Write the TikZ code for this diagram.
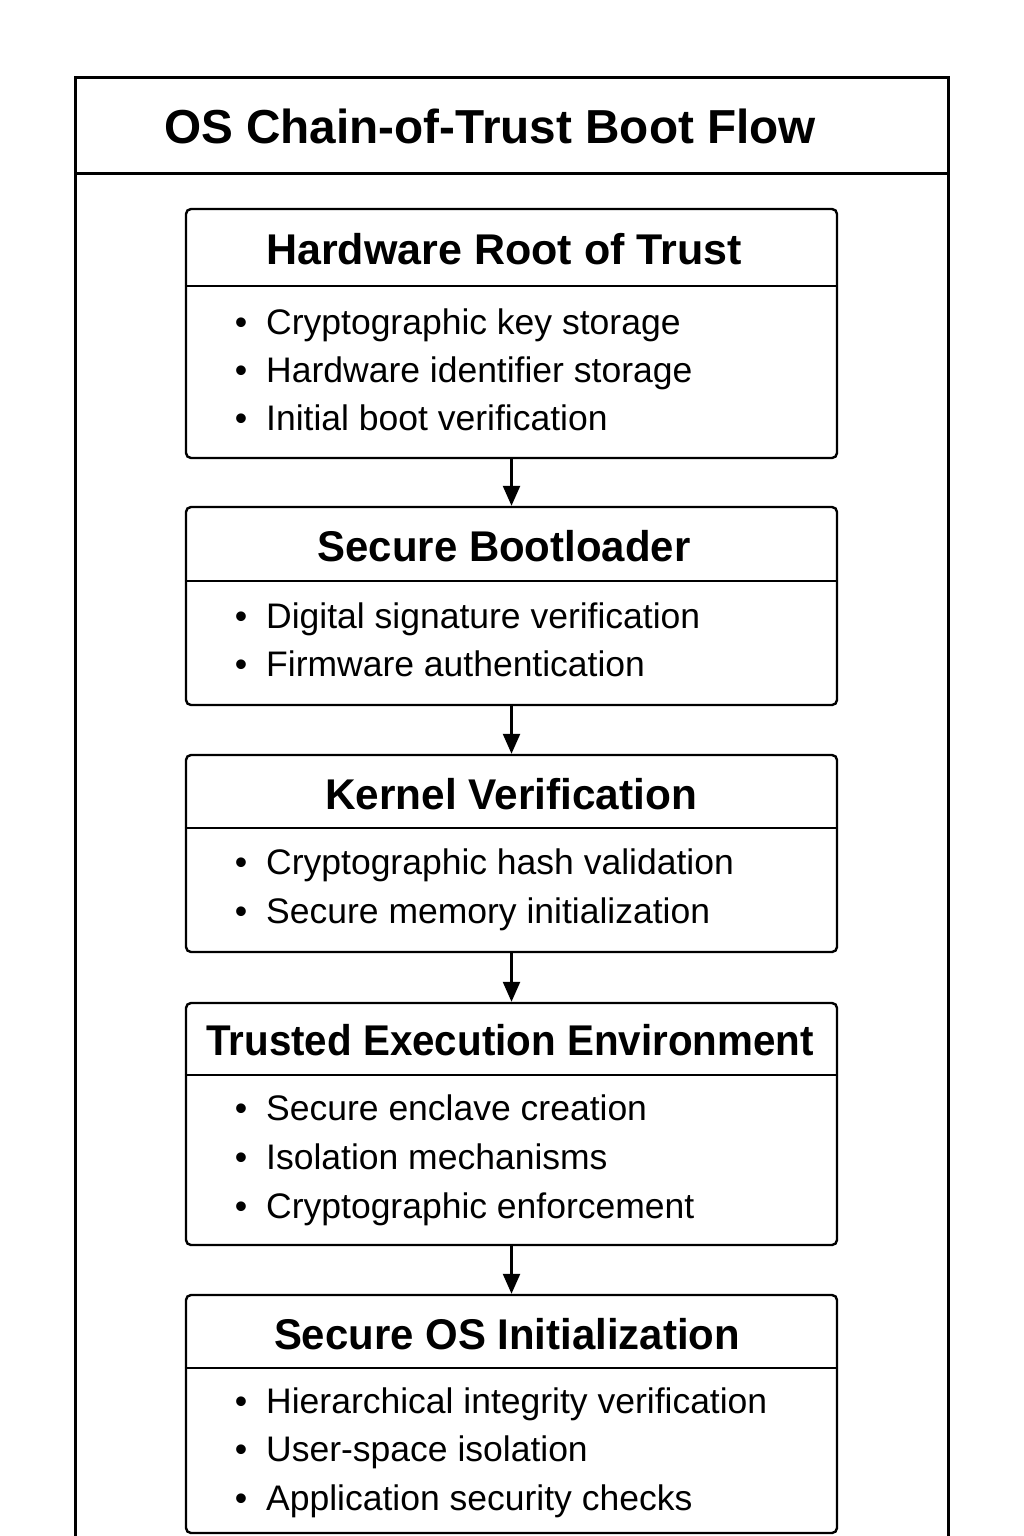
\documentclass[tikz,border=0pt]{standalone}
\usepackage{fontspec}
\setmainfont{Liberation Sans}
\usetikzlibrary{arrows.meta}

\begin{document}
\begin{tikzpicture}[x=1pt,y=-1pt,
  frame/.style={line width=3pt},
  stage/.style={draw,line width=2.4pt,rounded corners=5pt,minimum width=651pt,inner sep=0pt},
  rule/.style={line width=2.4pt},
  flow/.style={line width=2.4pt,-{Triangle[length=20pt,width=17pt]}},
  maintitle/.style={anchor=base,font=\fontsize{47.7}{50}\selectfont\bfseries},
  stagetitle/.style={anchor=base,font=\fontsize{43}{46}\selectfont\bfseries},
  item/.style={anchor=base west,inner sep=0pt,font=\fontsize{35.5}{38}\selectfont},
  dot/.style={anchor=base,inner sep=0pt,font=\fontsize{35.5}{38}\selectfont}
]
\useasboundingbox (0,0) rectangle (1024,1536);
\fill[white] (0,0) rectangle (1024,1536);

% outer frame, open at the bottom, with the title band
\draw[frame] (75,1536) -- (75,78) -- (948,78) -- (948,1536);
\draw[frame] (75,173) -- (948,173);
\node[maintitle] (title) at (490,143) {OS Chain-of-Trust Boot Flow};

% stage boxes
\node[stage,minimum height=249pt] (b1) at (511.5,333.5) {};
\node[stage,minimum height=198pt] (b2) at (511.5,606) {};
\node[stage,minimum height=197pt] (b3) at (511.5,853.5) {};
\node[stage,minimum height=242pt] (b4) at (511.5,1124) {};
\node[stage,minimum height=238pt] (b5) at (511.5,1414) {};

% header separators
\coordinate (s1) at (0,286);
\coordinate (s2) at (0,581);
\coordinate (s3) at (0,828);
\coordinate (s4) at (0,1075);
\coordinate (s5) at (0,1368);
\foreach \i in {1,...,5}{
  \draw[rule] (b\i.west |- s\i) -- (b\i.east |- s\i);
}

% stage titles
\node[stagetitle] (t1) at (504,264) {Hardware Root of Trust};
\node[stagetitle] (t2) at (504,561) {\scalebox{0.975}[1]{Secure Bootloader}};
\node[stagetitle] (t3) at (511,809) {\scalebox{0.985}[1]{Kernel Verification}};
\node[stagetitle] (t4) at (510,1055) {\scalebox{0.938}[1]{Trusted Execution Environment}};
\node[stagetitle] (t5) at (507,1349) {\scalebox{0.975}[1]{Secure OS Initialization}};

% bullet items
\node[dot] (d11) at (241,334) {•}; \node[item] (i11) at (266,334) {Cryptographic key storage};
\node[dot] (d12) at (241,382) {•}; \node[item] (i12) at (266,382) {Hardware identifier storage};
\node[dot] (d13) at (241,430) {•}; \node[item] (i13) at (266,430) {Initial boot verification};

\node[dot] (d21) at (241,628) {•}; \node[item] (i21) at (266,628) {Digital signature verification};
\node[dot] (d22) at (241,676) {•}; \node[item] (i22) at (266,676) {Firmware authentication};

\node[dot] (d31) at (241,874) {•}; \node[item] (i31) at (266,874) {Cryptographic hash validation};
\node[dot] (d32) at (241,923) {•}; \node[item] (i32) at (266,923) {Secure memory initialization};

\node[dot] (d41) at (241,1120) {•}; \node[item] (i41) at (266,1120) {Secure enclave creation};
\node[dot] (d42) at (241,1169) {•}; \node[item] (i42) at (266,1169) {Isolation mechanisms};
\node[dot] (d43) at (241,1218) {•}; \node[item] (i43) at (266,1218) {Cryptographic enforcement};

\node[dot] (d51) at (241,1413) {•}; \node[item] (i51) at (266,1413) {Hierarchical integrity verification};
\node[dot] (d52) at (241,1461) {•}; \node[item] (i52) at (266,1461) {User-space isolation};
\node[dot] (d53) at (241,1510) {•}; \node[item] (i53) at (266,1510) {Application security checks};

% chain-of-trust arrows
\draw[flow] (b1.south) -- (b2.north);
\draw[flow] (b2.south) -- (b3.north);
\draw[flow] (b3.south) -- (b4.north);
\draw[flow] (b4.south) -- (b5.north);
\end{tikzpicture}
\end{document}
